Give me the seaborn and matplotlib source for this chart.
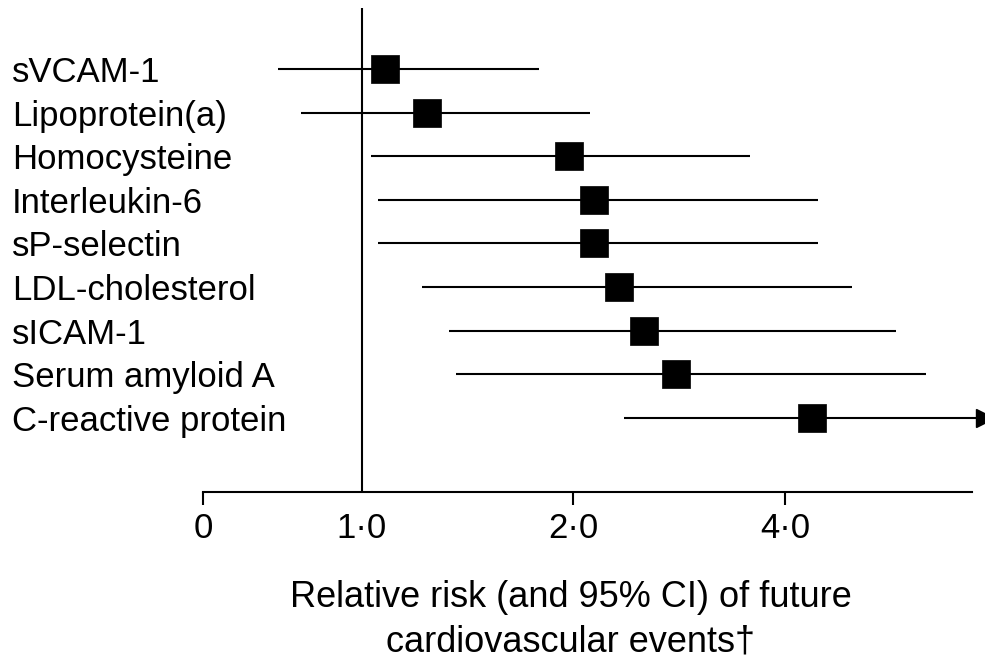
import numpy as np
import pandas as pd
import matplotlib
matplotlib.use("Agg")
import matplotlib.pyplot as plt
import seaborn as sns
from matplotlib.ticker import FixedLocator, NullLocator

# ---- data ----
markers = ["sVCAM-1", "Lipoprotein(a)", "Homocysteine", "Interleukin-6",
           "sP-selectin", "LDL-cholesterol", "sICAM-1", "Serum amyloid A",
           "C-reactive protein"]
rr = [1.08, 1.24, 1.97, 2.14, 2.14, 2.32, 2.52, 2.80, 4.37]
ci_low = [0.76, 0.82, 1.03, 1.055, 1.055, 1.22, 1.33, 1.36, 2.36]
ci_high = [1.79, 2.11, 3.57, 4.46, 4.46, 4.98, 5.75, 6.35, 7.70]
ci_open = [False, False, False, False, False, False, False, False, True]

tick_values = [0.595, 1.0, 2.0, 4.0]
tick_labels = ["0", "1\u00b70", "2\u00b70", "4\u00b70"]
xlabel_lines = ["Relative risk (and 95% CI) of future", "cardiovascular events\u2020"]

df = pd.DataFrame({"marker": markers, "rr": rr, "lo": ci_low, "hi": ci_high,
                   "open": ci_open})
df["row"] = np.arange(len(df))

sns.set_style("white")
plt.rcParams["font.family"] = ["Liberation Sans", "DejaVu Sans"]
plt.rcParams["text.color"] = "black"
plt.rcParams["xtick.color"] = "black"
plt.rcParams["ytick.color"] = "black"
plt.rcParams["xtick.labelcolor"] = "black"
plt.rcParams["ytick.labelcolor"] = "black"

W, H = 985, 662
fig = plt.figure(figsize=(W / 100, H / 100), dpi=100)
ax_left, ax_right, ax_top, ax_bot = 203, 972, 8, 491.5
ax = fig.add_axes([ax_left / W, 1 - ax_bot / H, (ax_right - ax_left) / W,
                   (ax_bot - ax_top) / H])

ax.set_xscale("log", base=2)
ax.set_xlim(0.595, 7.377)
row_px0, row_step = 69, 43.6
ax.set_ylim((ax_bot - row_px0) / row_step, (ax_top - row_px0) / row_step)

lw = 1.5
# reference line at 1
ax.axvline(1.0, color="black", lw=lw, zorder=1)

# confidence intervals
closed = df[~df["open"]]
ax.hlines(closed["row"], closed["lo"], closed["hi"], color="black", lw=lw, zorder=2)
opened = df[df["open"]]
ax.hlines(opened["row"], opened["lo"], opened["hi"], color="black", lw=lw,
          zorder=2, clip_on=False)
ax.plot(opened["hi"], opened["row"], marker=">", color="black", markersize=13,
        linestyle="none", clip_on=False, zorder=3)

# point estimates
sns.scatterplot(data=df, x="rr", y="row", marker="s", s=19.5 ** 2,
                color="black", edgecolor="black", linewidth=0.5, ax=ax,
                zorder=4, legend=False)

# axes styling
for s in ["top", "right", "left"]:
    ax.spines[s].set_visible(False)
ax.spines["bottom"].set_linewidth(lw)
ax.spines["bottom"].set_color("black")

ax.xaxis.set_major_locator(FixedLocator(tick_values))
ax.xaxis.set_minor_locator(NullLocator())
ax.set_xticklabels(tick_labels)
ax.tick_params(axis="x", which="major", direction="out", length=9.5, width=lw,
               color="black", labelcolor="black", labelsize=25, pad=5,
               bottom=True)
ax.xaxis.get_major_ticks()[1].tick1line.set_visible(False)

ax.set_yticks(df["row"])
ax.set_yticklabels(df["marker"])
ax.tick_params(axis="y", length=0, labelsize=25, labelcolor="black",
               pad=(ax_left - 12) * 0.72)
for lab in ax.get_yticklabels():
    lab.set_horizontalalignment("left")

ax.set_xlabel("")
ax.set_ylabel("")

fig.text(571 / W, 1 - 607 / H, xlabel_lines[0], ha="center", va="baseline",
         fontsize=26, color="black")
fig.text(571 / W, 1 - 652 / H, xlabel_lines[1], ha="center", va="baseline",
         fontsize=26, color="black")

fig.savefig("out.png", dpi=100, facecolor="white")
